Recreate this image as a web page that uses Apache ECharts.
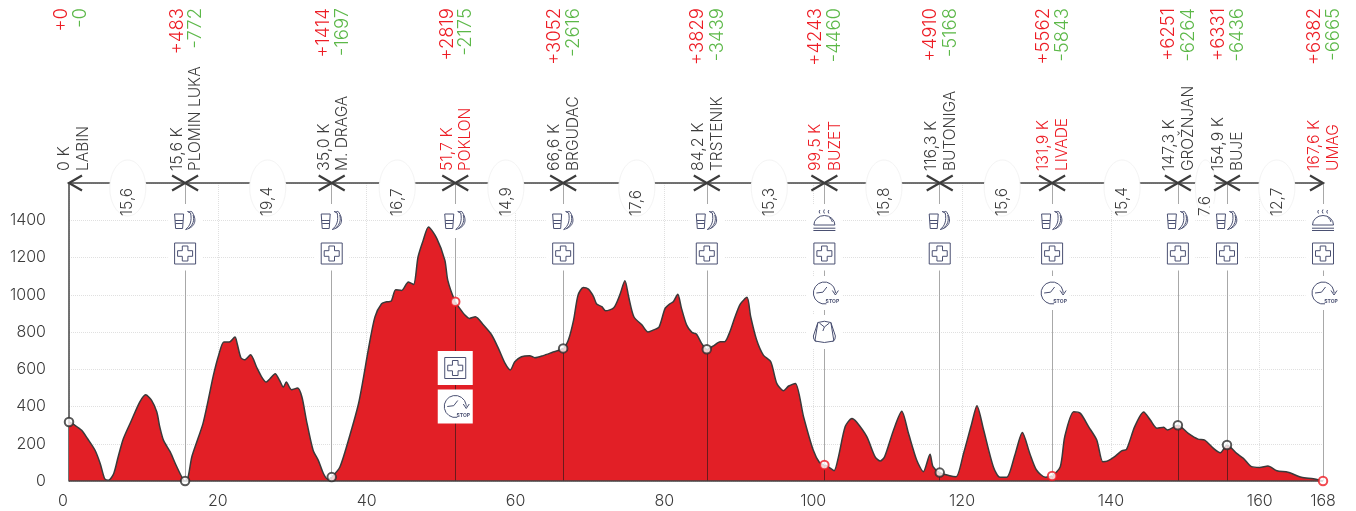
<!DOCTYPE html>
<html>
<head>
<meta charset="utf-8">
<title>Istria profile</title>
<script src="https://cdn.jsdelivr.net/npm/echarts@6/dist/echarts.min.js"></script>
<style>
  html, body { margin: 0; background: #fff; }
  #chart { width: 1356px; height: 511px; }
</style>
</head>
<body>
<div id="chart"></div>
<script>
// elevation profile, [km, m]
const profile = [
  [0,317],[0.8,299],[1.7,272],[2.5,227],[3.5,165],[4.2,93],[4.8,12],[5.3,4],[6.0,39],[6.6,129],
  [7.3,227],[8.4,326],[9.5,424],[10.3,463],[11.1,433],[11.8,370],[12.2,290],[12.7,218],[13.6,156],[14.5,75],
  [15.6,0],[16.0,21],[16.5,129],[17.4,236],[18.0,308],[18.7,433],[19.4,567],[20.1,674],[20.8,746],[21.5,746],
  [22.3,773],[22.6,737],[23.1,662],[23.6,651],[24.4,678],[25.2,612],[25.9,558],[26.5,531],[27.0,549],[27.7,576],
  [28.3,540],[28.8,504],[29.2,531],[29.9,490],[30.7,499],[31.3,451],[31.9,326],[32.8,165],[33.5,111],[34.2,39],
  [34.8,9],[35.3,21],[36.4,75],[37.8,254],[38.9,415],[39.5,540],[40.2,701],[41.1,880],[42.0,952],[42.7,962],
  [43.3,966],[43.9,1027],[44.7,1023],[45.6,1068],[46.3,1055],[46.9,1203],[47.6,1293],[48.3,1364],[49.4,1304],[50.5,1186],
  [50.9,1077],[51.9,962],[52.5,927],[53.2,891],[53.8,873],[54.6,882],[55.7,837],[56.8,784],[57.7,712],[58.6,631],
  [59.3,596],[59.9,640],[60.8,667],[61.9,673],[62.6,662],[63.7,673],[64.9,690],[66.4,712],[67.1,757],[67.8,864],
  [68.4,998],[69.1,1039],[69.8,1030],[70.5,989],[70.9,950],[71.6,936],[72.1,914],[73.2,930],[74.0,998],[74.7,1075],
  [75.2,989],[75.9,882],[77.0,837],[77.8,800],[78.5,810],[79.3,828],[80.1,927],[80.8,953],[81.2,962],[81.8,1003],
  [82.3,927],[83.0,837],[83.7,798],[84.3,789],[85.0,739],[85.7,707],[86.6,726],[87.5,748],[88.1,748],[88.8,801],
  [89.5,882],[90.2,950],[91.1,986],[91.6,882],[92.4,757],[93.3,676],[94.3,640],[95.1,524],[96.0,485],[96.7,510],
  [97.6,524],[98.7,345],[100.0,166],[100.9,95],[101.5,86],[102.0,77],[102.8,55],[103.4,131],[104.3,292],[105.2,336],
  [105.8,318],[107.2,238],[108.3,131],[109.0,107],[109.6,131],[110.8,274],[111.9,374],[112.8,256],[113.9,113],[114.8,50],
  [115.7,143],[116.1,77],[117.0,45],[118.2,30],[119.2,23],[120.2,148],[121.3,309],[122.0,404],[122.9,274],[124.2,77],
  [125.1,20],[126.0,20],[127.1,140],[128.1,261],[129.1,148],[130.0,59],[131.2,20],[132.1,27],[133.2,77],[133.8,238],
  [135.0,372],[135.9,363],[137.0,292],[138.1,220],[138.9,104],[139.5,107],[140.6,134],[141.5,163],[142.1,170],[143.2,292],
  [144.4,370],[145.3,327],[146.2,283],[147.1,288],[147.6,274],[149.0,299],[150.4,256],[151.7,225],[152.6,220],[153.8,175],
  [154.7,152],[155.6,193],[156.9,148],[157.8,122],[158.9,77],[160.0,73],[161.1,80],[162.3,55],[163.8,47],[165.6,20],
  [167.2,12],[168.5,0]
];

// stations
const stationKm = [0, 15.6, 35.3, 51.9, 66.4, 85.7, 101.5, 117.0, 132.1, 149.0, 155.6, 168.5];
const stationElev = [317, 0, 21, 962, 712, 707, 86, 45, 27, 299, 193, 0];
const stationDist = ['0 K', '15,6 K', '35,0 K', '51,7 K', '66,6 K', '84,2 K', '99,5 K', '116,3 K', '131,9 K', '147,3 K', '154,9 K', '167,6 K'];
const stationNames = ['LABIN', 'PLOMIN LUKA', 'M. DRAGA', 'POKLON', 'BRGUDAC', 'TRSTENIK', 'BUZET', 'BUTONIGA', 'LIVADE', 'GROŽNJAN', 'BUJE', 'UMAG'];
const stationClimb = ['+0', '+483', '+1414', '+2819', '+3052', '+3829', '+4243', '+4910', '+5562', '+6251', '+6331', '+6382'];
const stationDescent = ['-0', '-772', '-1697', '-2175', '-2616', '-3439', '-4460', '-5168', '-5843', '-6264', '-6436', '-6665'];
const stationHighlight = [false, false, false, true, false, false, true, false, true, false, false, true];
// icon list per station, the index is the slot
const stationIcons = [
  [],
  ['drink', 'plus'],
  ['drink', 'plus'],
  ['drink', null, null, null, 'plus', 'stop'],
  ['drink', 'plus'],
  ['drink', 'plus'],
  ['food', 'plus', 'stop', 'bag'],
  ['drink', 'plus'],
  ['drink', 'plus', 'stop'],
  ['drink', 'plus'],
  ['drink', 'plus'],
  ['food', 'plus', 'stop']
];

// leg lengths between stations
const legKm = [7.9, 26.7, 44.1, 58.7, 76.3, 94.1, 109.5, 125.4, 141.5, 152.7, 162.3];
const legLabels = ['15,6', '19,4', '16,7', '14,9', '17,6', '15,3', '15,8', '15,6', '15,4', '7,6', '12,7'];

const xTickValues = [0, 20, 40, 60, 80, 100, 120, 140, 160, 168.5];
const xTickLabels = ['0', '20', '40', '60', '80', '100', '120', '140', '160', '168'];

const FONT = 'Inter, Lato, sans-serif';
const DARK = '#3c3c3c';
const RED = '#ed1c24';
const GREEN = '#5cb848';
const ICON = '#4a5072';
const slotY = [221, 253.5, 293, 332, 368, 406.5]; // icon rows, px

const iconPaths = {
  plus: 'M-10.5 -10.5H10.5V10.5H-10.5ZM-2.8 -7.5H2.8V-2.8H7.5V2.8H2.8V7.5H-2.8V2.8H-7.5V-2.8H-2.8Z',
  drink: 'M-10.5 -7H-1.5L-2.5 7.5H-9.5ZM-10 -0.5H-2M-9.5 2.5H-2.5M2.5 -9.5C4.5 -8.5 5 -10 6.5 -9.5C12 -2 11 6 0.5 8.5C5 5 7 0 5.5 -8ZM8 -6C9.5 -1 8 4 3.5 7.5',
  food: 'M-10.5 4A10.5 9.5 0 0 1 10.5 4ZM-11 7.2H11M-11 9.5H11M-4.5 -11Q-6 -9 -4.5 -7.5M0 -11.5Q-1.5 -9.5 0 -7.5M4.5 -11Q3 -9 4.5 -7.5M5 -3.5Q7.5 -1.5 8 1',
  stop: 'M2 10.8A11 11 0 1 1 11 0M8 -2.5L11 2L14 -2.5M-8 0L-1.5 -0.8L2.5 -6',
  bag: 'M-6.5 -9.5Q0 -12 6.5 -9.5L9.5 9Q0 12 -9.5 9ZM-6.5 -9.5L-11 4Q-11.5 8 -8 9.5M6.5 -9.5L11 4Q11.5 8 8 9.5M-5 -9L0 -5L5 -9M0 -5L-1.5 -1'
};

function rotatedText(text, x, y, align, color, size) {
  return {
    type: 'text',
    x: x,
    y: y,
    rotation: Math.PI / 2,
    style: {
      text: text,
      align: align,
      verticalAlign: 'middle',
      fill: color,
      font: '300 ' + size + 'px ' + FONT
    }
  };
}

// chevrons and rotated texts above the axis line
function renderStation(params, api) {
  const i = params.dataIndex;
  const p = api.coord([stationKm[i], 1600]);
  const textColor = stationHighlight[i] ? RED : DARK;
  const first = i === 0;
  const last = i === stationKm.length - 1;
  let chevron = '';
  if (!last) chevron += 'M13 -7.5L0 0L13 7.5';
  if (!first) chevron += 'M-13 -7.5L0 0L-13 7.5';
  const shift = first ? 3 : 0;
  const left = first ? -8 : (i < 4 ? -8 : -9);
  const right = first ? 11 : 10.5;
  return {
    type: 'group',
    children: [
      { type: 'path', x: p[0], y: p[1], shape: { pathData: chevron }, style: { fill: 'none', stroke: DARK, lineWidth: 2.2 } },
      rotatedText(stationDist[i], p[0] + left + shift, p[1] - 12, 'left', textColor, 16),
      rotatedText(stationNames[i], p[0] + right + shift, p[1] - 12, 'left', textColor, 15.5),
      rotatedText(stationClimb[i], p[0] + left, 8, 'right', RED, 18.5),
      rotatedText(stationDescent[i], p[0] + right, 8, 'right', GREEN, 18.5)
    ]
  };
}

function renderLeg(params, api) {
  const i = params.dataIndex;
  const p = api.coord([legKm[i], 1600]);
  const narrow = legLabels[i].length < 4;
  return {
    type: 'group',
    children: [
      {
        type: 'ellipse',
        shape: { cx: p[0], cy: p[1] + 5, rx: narrow ? 10 : 18, ry: 28 },
        style: { fill: '#fff', stroke: '#f4f4f4', lineWidth: 1 }
      },
      rotatedText(legLabels[i], p[0], p[1] + 33, 'left', DARK, 15.5)
    ]
  };
}

function renderIcons(params, api) {
  const i = params.dataIndex;
  const cx = api.coord([stationKm[i], 0])[0];
  const children = [];
  stationIcons[i].forEach((name, slot) => {
    if (!name) return;
    const cy = slotY[slot];
    children.push({
      type: 'rect',
      shape: { x: cx - 17.5, y: cy - 17, width: 35, height: 34 },
      style: { fill: '#fff' }
    });
    children.push({
      type: 'path',
      x: cx,
      y: cy,
      shape: { pathData: iconPaths[name] },
      style: { fill: 'none', stroke: ICON, lineWidth: 1 }
    });
    if (name === 'stop') {
      children.push({
        type: 'text',
        x: cx + 8,
        y: cy + 8.5,
        style: { text: 'STOP', align: 'center', verticalAlign: 'middle', fill: ICON, font: 'bold 5px ' + FONT }
      });
    }
  });
  return { type: 'group', children: children };
}

const stationLines = [];
stationKm.slice(1).forEach((km, i) => {
  const elev = stationElev[i + 1];
  stationLines.push([{ coord: [km, 1600], lineStyle: { color: '#a8a8a8', width: 1, type: 'solid' } }, { coord: [km, elev] }]);
  stationLines.push([{ coord: [km, elev], lineStyle: { color: '#6b1a1c', width: 1, type: 'solid' } }, { coord: [km, 0] }]);
});

const option = {
  animation: false,
  backgroundColor: '#fff',
  grid: { left: 69, right: 33, top: 183, bottom: 30, containLabel: false },
  xAxis: {
    type: 'value',
    min: 0,
    max: 168.5,
    interval: 20,
    axisLine: { show: false },
    axisTick: { show: false, customValues: xTickValues },
    axisLabel: {
      customValues: xTickValues,
      fontFamily: FONT,
      fontSize: 16,
      fontWeight: 300,
      color: DARK,
      margin: 12,
      formatter: (value) => {
        const label = xTickLabels[xTickValues.indexOf(value)];
        return label === '0' ? '{zero|0}' : label;
      },
      rich: { zero: { padding: [0, 12, 0, 0], fontFamily: FONT, fontSize: 16, fontWeight: 300, color: DARK } }
    },
    splitLine: { show: true, lineStyle: { type: 'dotted', color: '#e0e0e0', width: 1 } }
  },
  yAxis: {
    type: 'value',
    min: 0,
    max: 1600,
    interval: 200,
    axisLine: { show: true, lineStyle: { color: '#444', width: 1.5 } },
    axisTick: { show: false },
    axisLabel: {
      fontFamily: FONT,
      fontSize: 16,
      fontWeight: 300,
      color: DARK,
      margin: 23,
      formatter: (value) => (value === 1600 ? '' : value)
    },
    splitLine: { show: true, lineStyle: { type: 'dotted', color: '#e0e0e0', width: 1 } }
  },
  series: [
    {
      name: 'profile',
      type: 'line',
      data: profile,
      symbol: 'none',
      smooth: 0.25,
      z: 3,
      lineStyle: { color: '#3a3a3a', width: 1.5 },
      areaStyle: { color: '#e21f26', opacity: 1 },
      markLine: {
        silent: true,
        symbol: 'none',
        label: { show: false },
        data: stationLines.concat([
          { yAxis: 0, lineStyle: { color: '#444', width: 1.5, type: 'solid' } },
          { yAxis: 1600, lineStyle: { color: '#444', width: 1.5, type: 'solid' } }
        ])
      }
    },
    {
      name: 'legs',
      type: 'custom',
      z: 5,
      clip: false,
      silent: true,
      data: legKm.map((km) => [km, 1600]),
      encode: { x: 0, y: 1 },
      renderItem: renderLeg
    },
    {
      name: 'icons',
      type: 'custom',
      z: 6,
      clip: false,
      silent: true,
      data: stationKm.map((km) => [km, 0]),
      encode: { x: 0, y: 1 },
      renderItem: renderIcons
    },
    {
      name: 'stations',
      type: 'custom',
      z: 7,
      clip: false,
      silent: true,
      data: stationKm.map((km) => [km, 1600]),
      encode: { x: 0, y: 1 },
      renderItem: renderStation
    },
    {
      name: 'points',
      type: 'scatter',
      z: 8,
      clip: false,
      silent: true,
      symbolSize: 8.5,
      data: stationKm.map((km, i) => ({
        value: [km, stationElev[i]],
        itemStyle: { color: '#fff', borderColor: stationHighlight[i] ? RED : '#2e2e2e', borderWidth: 2 }
      }))
    }
  ]
};

const chart = echarts.init(document.getElementById('chart'), null, { renderer: 'canvas' });
chart.setOption(option);
window.addEventListener('resize', () => chart.resize());
</script>
</body>
</html>
